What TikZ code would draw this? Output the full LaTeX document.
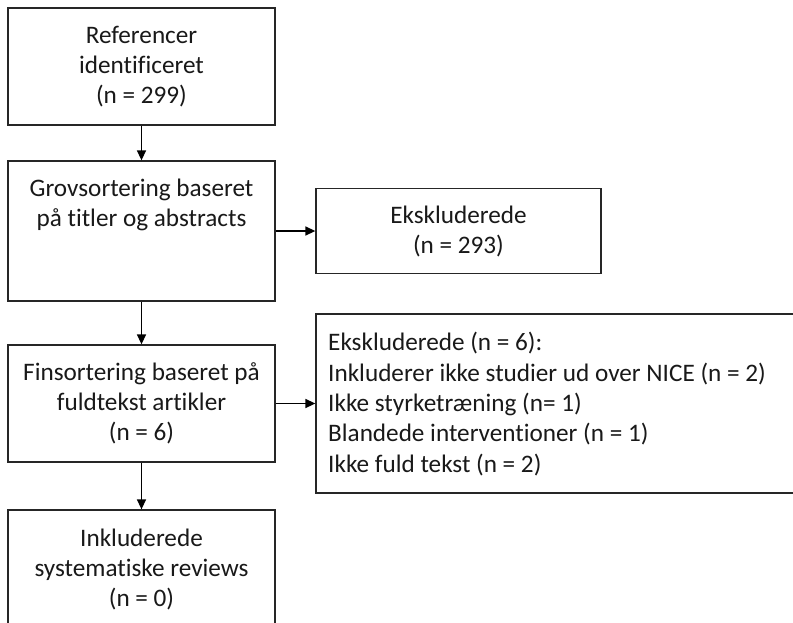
\documentclass[tikz,border=0pt]{standalone}
\usepackage{fontspec}
\setmainfont[Ligatures={NoCommon}]{Carlito}
\usetikzlibrary{arrows.meta}
\begin{document}
\begin{tikzpicture}[x=1pt,y=-1pt,
  box/.style={draw=black!85, line width=1.3pt, inner sep=0pt, fill=white},
  txt/.style={align=center, inner sep=0pt, font=\fontsize{25.2}{30}\selectfont, text=black!90},
  ltxt/.style={align=left, inner sep=0pt, font=\fontsize{25.2}{30.3}\selectfont, text=black!90},
  arr/.style={line width=1.5pt, draw=black, -{Triangle[length=10pt,width=9pt]}}]
\useasboundingbox (0,0) rectangle (793,622);
\clip (0,0) rectangle (793,622);
\fill[white] (0,0) rectangle (793,622);
% boxes
\node[box, minimum width=267pt, minimum height=117pt] (b1) at (141.5,66.5) {};
\node[txt] (b1t) at (b1.center) {Referencer\\identificeret\\(n = 299)};
\node[box, minimum width=267pt, minimum height=140pt] (b2) at (141.5,231) {};
\node[txt, anchor=center] (b2t) at (141.5,205) {Grovsortering baseret\\på titler og abstracts};
\node[box, minimum width=285pt, minimum height=85pt] (b3) at (458.5,231) {};
\node[txt] (b3t) at (b3.center) {Ekskluderede\\(n = 293)};
\node[box, minimum width=267pt, minimum height=117pt] (b4) at (141.5,403.5) {};
\node[txt] (b4t) at (b4.center) {Finsortering baseret på\\fuldtekst artikler\\(n = 6)};
\node[box, minimum width=500pt, minimum height=179pt] (b5) at (566,403.5) {};
\node[ltxt, anchor=west] (b5t) at (328,404) {Ekskluderede (n = 6):\\Inkluderer ikke studier ud over NICE (n = 2)\\Ikke styrketræning (n= 1)\\Blandede interventioner (n = 1)\\Ikke fuld tekst (n = 2)};
\node[box, minimum width=267pt, minimum height=130pt] (b6) at (141.5,575) {};
\node[txt] (b6t) at (141.5,569) {Inkluderede\\systematiske reviews\\(n = 0)};
% arrows
\draw[arr] (b1.south) -- (b2.north);
\draw[arr] (b2.east) -- (b3.west);
\draw[arr] (b2.south) -- (b4.north);
\draw[arr] (b4.east) -- (b5.west);
\draw[arr] (b4.south) -- (b6.north);
\end{tikzpicture}
\end{document}
